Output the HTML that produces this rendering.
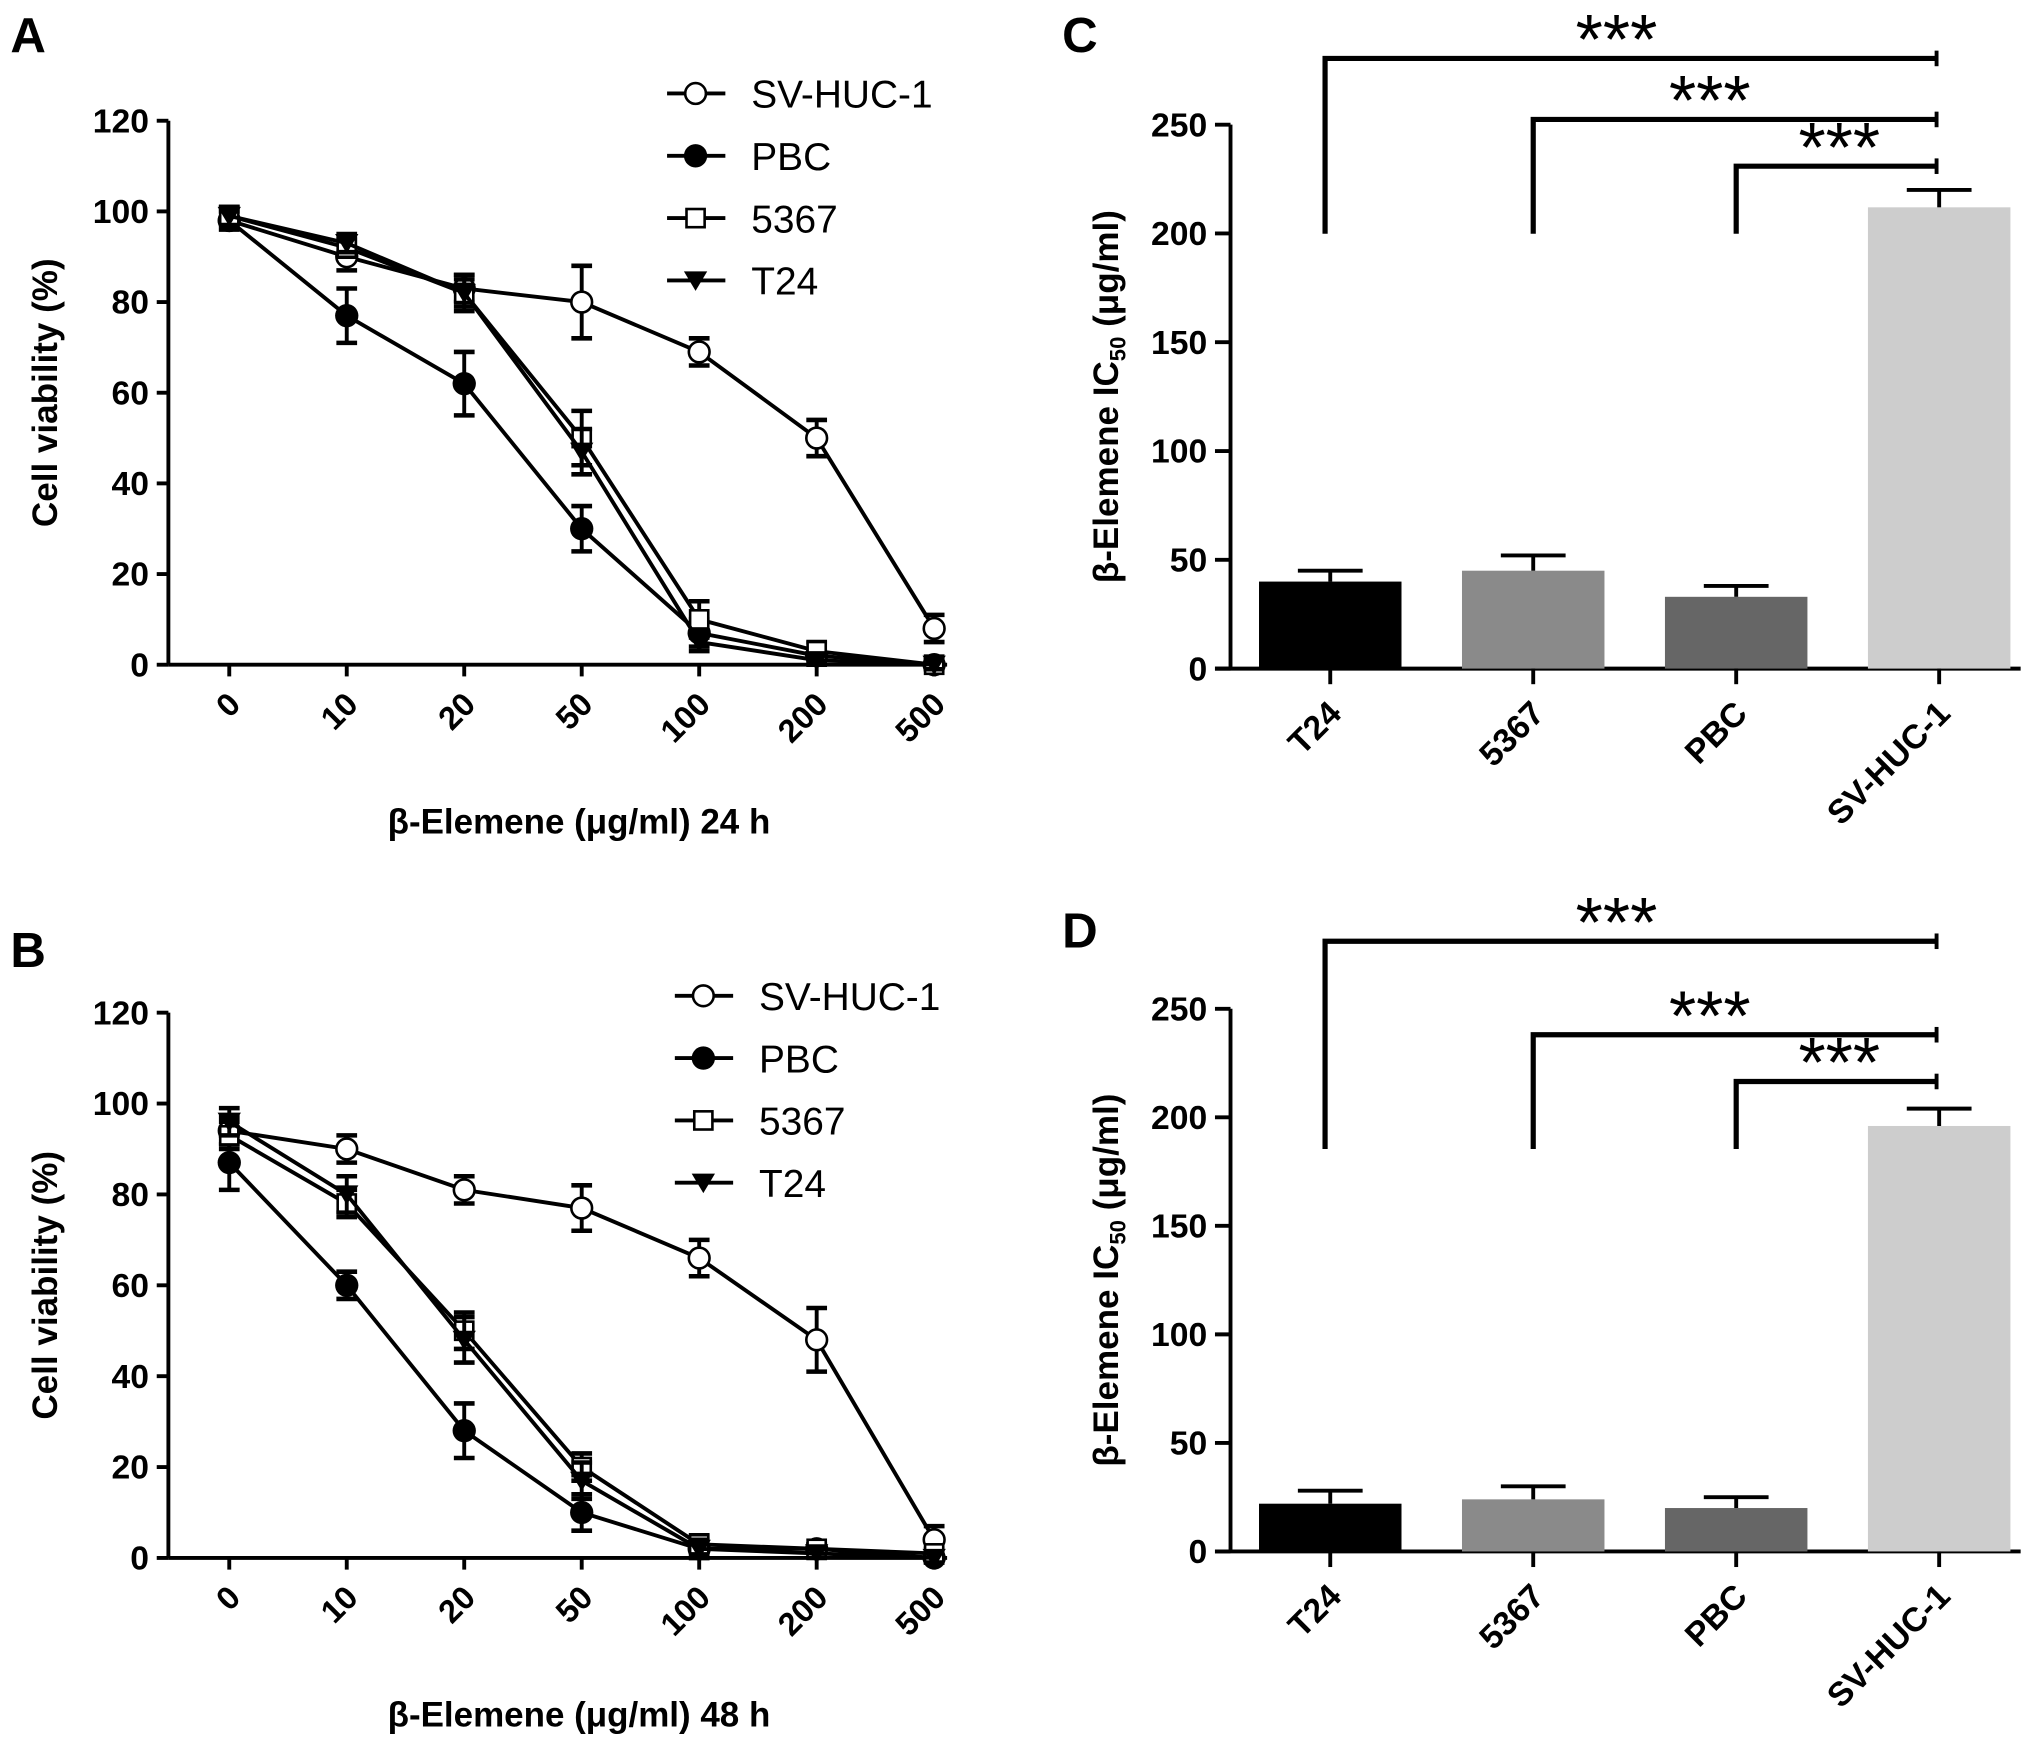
<!DOCTYPE html>
<html><head><meta charset="utf-8"><style>
html,body{margin:0;padding:0;background:#fff}
svg{display:block}
text{font-family:"Liberation Sans",Arial,sans-serif}
</style></head><body>
<svg id="fig" width="2031" height="1741" viewBox="0 0 1568 1341" preserveAspectRatio="none" xmlns="http://www.w3.org/2000/svg"></svg>
<script>
const doses = ["0","10","20","50","100","200","500"];
const yTicksLine = [0,20,40,60,80,100,120];
const seriesNames = ["SV-HUC-1","PBC","5367","T24"];
const a_sv = [98,90,83,80,69,50,8], a_sv_e=[2,3,3,8,3,4,3];
const a_pbc = [98,77,62,30,7,2,0], a_pbc_e=[2,6,7,5,3,1,1];
const a_5367 = [99,92,82,50,10,3,0], a_5367_e=[2,2,3,6,4,2,1];
const a_t24 = [99,93,82,47,5,1,0], a_t24_e=[2,2,4,5,2,1,1];
const b_sv = [94,90,81,77,66,48,4], b_sv_e=[3,3,3,5,4,7,3];
const b_pbc = [87,60,28,10,2,2,0], b_pbc_e=[6,3,6,4,2,1,1];
const b_5367 = [93,78,50,20,3,2,1], b_5367_e=[3,3,4,3,2,1,1];
const b_t24 = [96,80,48,17,2,1,0], b_t24_e=[3,4,5,4,2,1,1];
const barCats = ["T24","5367","PBC","SV-HUC-1"];
const c_vals = [40,45,33,212], c_errs=[5,7,5,8];
const d_vals = [22,24,20,196], d_errs=[6,6,5,8];
const yTicksBar = [0,50,100,150,200,250];

const NS="http://www.w3.org/2000/svg", svg=document.getElementById('fig');
function el(tag,attrs,parent,txt){const e=document.createElementNS(NS,tag);for(const k in attrs)e.setAttribute(k,attrs[k]);if(txt!==undefined)e.textContent=txt;(parent||svg).appendChild(e);return e;}

function linePanel(name,ox,y0,y120,data,letterY,legY,legX,title){
  const g=el('g',{});
  
  
  const X=i=>177+ox+i*90.7, Y=v=>y0-(v/120)*(y0-y120);
  const ax=130+ox;
  el('line',{x1:ax,y1:y120,x2:ax,y2:y0,stroke:'#000','stroke-width':3},g);
  el('line',{x1:ax,y1:y0,x2:X(6)+10,y2:y0,stroke:'#000','stroke-width':3},g);
  yTicksLine.forEach(t=>{el('line',{x1:ax-9,y1:Y(t),x2:ax,y2:Y(t),stroke:'#000','stroke-width':3},g);
    el('text',{x:ax-15,y:Y(t)+9,'text-anchor':'end','font-size':26,'font-weight':'bold'},g,t);});
  doses.forEach((d,i)=>{el('line',{x1:X(i),y1:y0,x2:X(i),y2:y0+9,stroke:'#000','stroke-width':3},g);
    el('text',{x:X(i)+10,y:y0+32,'text-anchor':'end','font-size':25,'font-weight':'bold',transform:`rotate(-45 ${X(i)+10} ${y0+32})`},g,d);});
  const yt=el('text',{x:0,y:0,'text-anchor':'middle','font-size':27,'font-weight':'bold',transform:`translate(${44+ox},${(y0+y120)/2}) rotate(-90)`},g,'Cell viability (%)');
  
  
  const xt=el('text',{x:447+ox,y:y0+130,'text-anchor':'middle','font-size':27,'font-weight':'bold'},g,title);
  
  
  el('text',{x:8,y:letterY,'font-size':38,'font-weight':'bold'},g,name==='panel-a'?'A':'B');
  data.forEach((s,si)=>{
    const pts=s.v.map((v,i)=>X(i)+','+Y(v)).join(' ');
    const pl=el('polyline',{points:pts,fill:'none',stroke:'#000','stroke-width':3},g);
    
    
    s.v.forEach((v,i)=>{const e=s.e[i];
      el('line',{x1:X(i),y1:Y(v+e),x2:X(i),y2:Y(v-e),stroke:'#000','stroke-width':3},g);
      el('line',{x1:X(i)-8,y1:Y(v+e),x2:X(i)+8,y2:Y(v+e),stroke:'#000','stroke-width':3.5},g);
      el('line',{x1:X(i)-8,y1:Y(v-e),x2:X(i)+8,y2:Y(v-e),stroke:'#000','stroke-width':3.5},g);
      marker(g,si,X(i),Y(v));});
  });
  seriesNames.forEach((n,si)=>{const y=legY+si*48;
    const le=el('g',{},g);
    
    
    el('line',{x1:legX,y1:y,x2:legX+45,y2:y,stroke:'#000','stroke-width':3},le);
    marker(le,si,legX+22,y);
    el('text',{x:legX+65,y:y+11,'font-size':30},le,n);});
}
function marker(g,si,x,y){
  if(si===0) el('circle',{cx:x,cy:y,r:8,fill:'#fff',stroke:'#000','stroke-width':2},g);
  else if(si===1) el('circle',{cx:x,cy:y,r:9,fill:'#000'},g);
  else if(si===2) el('rect',{x:x-7,y:y-7,width:14,height:14,fill:'#fff',stroke:'#000','stroke-width':2},g);
  else el('polygon',{points:`${x-9},${y-7} ${x+9},${y-7} ${x},${y+8}`,fill:'#000'},g);
}
linePanel('panel-a',0,512,93,[{v:a_sv,e:a_sv_e},{v:a_pbc,e:a_pbc_e},{v:a_5367,e:a_5367_e},{v:a_t24,e:a_t24_e}],40,72,515,'β-Elemene (μg/ml)  24 h');
linePanel('panel-b',0,1200,780,[{v:b_sv,e:b_sv_e},{v:b_pbc,e:b_pbc_e},{v:b_5367,e:b_5367_e},{v:b_t24,e:b_t24_e}],745,767,521,'β-Elemene (μg/ml)  48 h');

function barPanel(name,letter,letterY,y0,y250,vals,errs,brY,brBottom){
  const g=el('g',{});
  
  
  const Y=v=>y0-(v/250)*(y0-y250), X=i=>1027+i*156.7, ax=950;
  const colors=['#000','#8a8a8a','#666','#cdcdcd'];
  el('text',{x:820,y:letterY,'font-size':38,'font-weight':'bold'},g,letter);
  el('line',{x1:ax,y1:y250,x2:ax,y2:y0,stroke:'#000','stroke-width':3},g);
  el('line',{x1:ax-12,y1:y0,x2:1560,y2:y0,stroke:'#000','stroke-width':3},g);
  yTicksBar.forEach(t=>{el('line',{x1:ax-12,y1:Y(t),x2:ax,y2:Y(t),stroke:'#000','stroke-width':3},g);
    el('text',{x:ax-18,y:Y(t)+9,'text-anchor':'end','font-size':26,'font-weight':'bold'},g,t);});
  const yt=el('text',{x:0,y:0,'text-anchor':'middle','font-size':27,'font-weight':'bold',transform:`translate(863,${(y0+y250)/2}) rotate(-90)`},g);
  
  
  el('tspan',{},yt,'β-Elemene IC');
  el('tspan',{'font-size':17,dy:6},yt,'50');
  el('tspan',{dy:-6},yt,' (μg/ml)');
  vals.forEach((v,i)=>{
    const r=el('rect',{x:X(i)-55,y:Y(v),width:110,height:y0-Y(v),fill:colors[i]},g);
    
    
    const e=errs[i];
    el('line',{x1:X(i),y1:Y(v),x2:X(i),y2:Y(v+e),stroke:'#000','stroke-width':3},g);
    el('line',{x1:X(i)-25,y1:Y(v+e),x2:X(i)+25,y2:Y(v+e),stroke:'#000','stroke-width':3},g);
    el('line',{x1:X(i),y1:y0,x2:X(i),y2:y0+12,stroke:'#000','stroke-width':3},g);
    el('text',{x:X(i)+10,y:y0+36,'text-anchor':'end','font-size':26,'font-weight':'bold',transform:`rotate(-45 ${X(i)+10} ${y0+36})`},g,barCats[i]);
  });
  const right=X(3)-2, starX=[1248,1320,1420];
  [0,1,2].forEach(k=>{const y=brY[k], l=X(k)-4+ (k===0?0:4);
    const b=el('polyline',{points:`${l},${brBottom} ${l},${y} ${right},${y}`,fill:'none',stroke:'#000','stroke-width':4},g);
    
    
    el('line',{x1:right,y1:y-6,x2:right,y2:y+6,stroke:'#000','stroke-width':3},g);
    el('text',{x:starX[k],y:y+4,'text-anchor':'middle','font-size':54},g,'***');});
}
barPanel('panel-c','C',40,515,96,c_vals,c_errs,[45,92,128],180);
barPanel('panel-d','D',730,1195,777,d_vals,d_errs,[725,797,833],885);
</script>
</body></html>
